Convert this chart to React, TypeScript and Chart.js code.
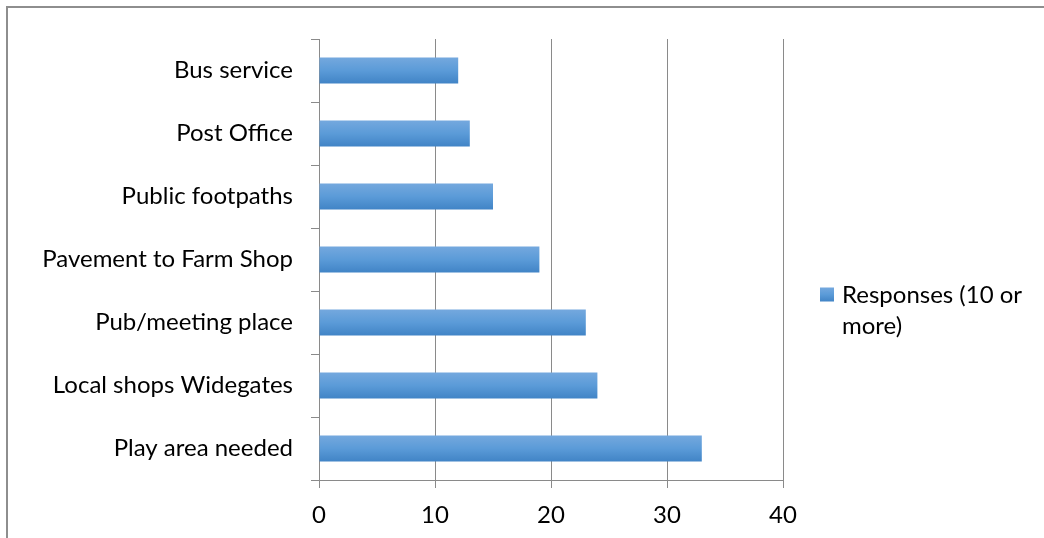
import React, { useEffect, useRef } from "react";
import { Chart, registerables } from "chart.js";

Chart.register(...registerables);

const categories = [
  "Bus service",
  "Post Office",
  "Public footpaths",
  "Pavement to Farm Shop",
  "Pub/meeting place",
  "Local shops Widegates",
  "Play area needed",
];
const responses = [12, 13, 15, 19, 23, 24, 33];
const seriesName = ["Responses (10 or", "more)"];
const xTicks = [0, 10, 20, 30, 40];

const FONT = "Lato, 'Open Sans', sans-serif";
const GRID = "#8a8a8a";

function barGradient(ctx: CanvasRenderingContext2D, top: number, bottom: number) {
  const g = ctx.createLinearGradient(0, top, 0, bottom);
  g.addColorStop(0, "#74a8de");
  g.addColorStop(0.5, "#5b9bd8");
  g.addColorStop(1, "#4184c6");
  return g;
}

const gradientPlugin = {
  id: "barGradient",
  beforeDatasetsDraw(chart: any) {
    const meta = chart.getDatasetMeta(0);
    meta.data.forEach((el: any) => {
      const h = el.height;
      const top = el.y - h / 2;
      el.options.backgroundColor = barGradient(chart.ctx, top, top + h);
    });
  },
};

const legendPlugin = {
  id: "sideLegend",
  afterDraw(chart: any) {
    const { ctx, chartArea } = chart;
    const x = chartArea.right + 37;
    const y = (chartArea.top + chartArea.bottom) / 2 + 36;
    ctx.save();
    ctx.fillStyle = barGradient(ctx, y - 8, y + 6);
    ctx.fillRect(x, y - 8, 14, 14);
    ctx.fillStyle = "#000";
    ctx.font = `24px ${FONT}`;
    ctx.textBaseline = "middle";
    ctx.textAlign = "left";
    seriesName.forEach((line, i) => {
      ctx.fillText(line, x + 22, y + i * 31);
    });
    ctx.restore();
  },
};

export default function App() {
  const ref = useRef<HTMLCanvasElement | null>(null);
  useEffect(() => {
    if (!ref.current) return;
    const chart = new Chart(ref.current, {
      type: "bar",
      data: {
        labels: categories,
        datasets: [
          {
            label: seriesName.join(" "),
            data: responses,
            backgroundColor: (c: any) => (c.dataIndex >= 0 ? "#5b9bd5" : "#5b9bd5"),
            borderWidth: 0,
            barPercentage: 0.41,
            categoryPercentage: 1,
          },
        ],
      },
      options: {
        indexAxis: "y",
        animation: false,
        responsive: false,
        maintainAspectRatio: false,
        layout: { padding: { left: 0, top: 39, right: 261, bottom: 0 } },
        plugins: { legend: { display: false }, tooltip: { enabled: false } },
        scales: {
          x: {
            min: 0,
            max: 40,
            afterBuildTicks: (scale: any) => {
              scale.ticks = xTicks.map((v) => ({ value: v }));
            },
            afterFit: (scale: any) => {
              scale.height = 58;
            },
            grid: {
              color: GRID,
              lineWidth: 1,
              drawOnChartArea: true,
              drawTicks: true,
              tickLength: 8,
              tickColor: GRID,
            },
            border: { display: true, color: GRID, width: 1 },
            ticks: {
              color: "#000",
              font: { family: FONT, size: 24 },
              padding: 13,
              maxRotation: 0,
            },
          },
          y: {
            afterFit: (scale: any) => {
              scale.width = 319;
            },
            grid: {
              display: true,
              drawOnChartArea: false,
              drawTicks: true,
              tickLength: 8,
              tickColor: GRID,
              offset: true,
            },
            border: { display: true, color: GRID, width: 1 },
            ticks: {
              color: "#000",
              font: { family: FONT, size: 24 },
              padding: 18,
            },
          },
        },
      },
      plugins: [gradientPlugin, legendPlugin],
    });
    return () => chart.destroy();
  }, []);

  return (
    <div
      style={{
        position: "fixed",
        left: 0,
        top: 0,
        width: 1044,
        height: 538,
        background: "#fff",
        overflow: "hidden",
      }}
    >
      <div
        style={{
          position: "absolute",
          left: 6,
          top: 6,
          width: 1100,
          height: 600,
          border: "2px solid #8e8e8e",
          boxSizing: "border-box",
        }}
      />
      <canvas
        ref={ref}
        width={1044}
        height={538}
        style={{ position: "absolute", left: 0, top: 0, width: 1044, height: 538 }}
      />
    </div>
  );
}
